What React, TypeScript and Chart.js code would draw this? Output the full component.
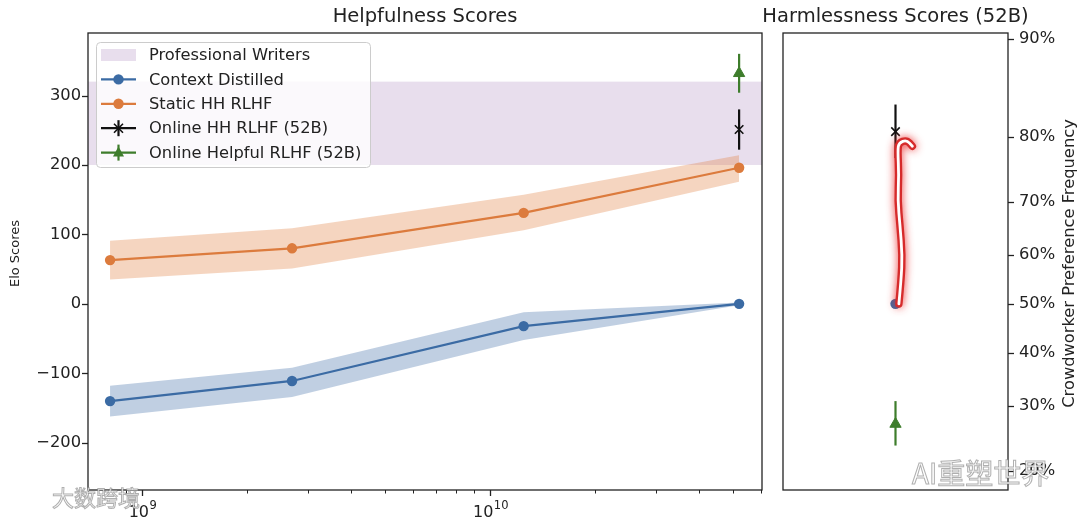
import React, { useEffect, useRef } from "react";
import { Chart, registerables } from "chart.js";

Chart.register(...registerables);
Chart.defaults.font.family = '"DejaVu Sans", sans-serif';

// ---------------- data ----------------
const MODEL_SIZES = [8.1e8, 2.7e9, 1.25e10, 5.2e10];
const CONTEXT_DISTILLED = [-140, -111, -32, 0];
const CONTEXT_DISTILLED_LO = [-162, -134, -52, -2];
const CONTEXT_DISTILLED_HI = [-118, -92, -12, 2];
const STATIC_HH = [63, 80, 131, 196];
const STATIC_HH_LO = [35, 51, 106, 176];
const STATIC_HH_HI = [91, 109, 157, 214];
const ONLINE_SIZE = 5.2e10;
const ONLINE_HH_HELPFUL = 251;
const ONLINE_HH_HELPFUL_ERR = [222, 280];
const ONLINE_HELPFUL_HELPFUL = 332;
const ONLINE_HELPFUL_HELPFUL_ERR = [304, 360];
const PRO_WRITERS = [200, 320];

const HARMLESS_X = 0;
const HARMLESS_CONTEXT = 0;
const HARMLESS_HH = 248;
const HARMLESS_HH_ERR = [210, 287];
const HARMLESS_HELPFUL = -173;
const HARMLESS_HELPFUL_ERR = [-204, -140];

const ELO_RANGE = [-268, 390];
const ELO_TICKS = [-200, -100, 0, 100, 200, 300];
const PCT_TICKS = [20, 30, 40, 50, 60, 70, 80, 90];
const X_RANGE = [7e8, 6.05e10];

const LEGEND_LABELS = [
  "Professional Writers",
  "Context Distilled",
  "Static HH RLHF",
  "Online HH RLHF (52B)",
  "Online Helpful RLHF (52B)",
];

// red hand-drawn highlight (data coords of right panel: x, elo)
const ANNOT_X = [0.03, 0.05, 0.06, 0.04, 0.02, 0.03, 0.02, 0.03, 0.1, 0.15];
const ANNOT_Y = [0, 34, 70, 113, 149, 185, 221, 232, 236, 227];

// ---------------- style ----------------
const BLUE = "#3b6ba4";
const ORANGE = "#dc7b3d";
const GREEN = "#3e7d2c";
const BLACK = "#111111";
const TEXT = "#222222";
const BLUE_BAND = "rgba(59,107,164,0.32)";
const ORANGE_BAND = "rgba(225,125,60,0.32)";
const PURPLE_BAND = "rgba(145,100,170,0.21)";
const FONT = '"DejaVu Sans", sans-serif';

const xy = (xs: number[], ys: number[]) => xs.map((x, i) => ({ x, y: ys[i] }));
const eloFromPct = (p: number) => 400 * Math.log10(p / (100 - p));
const pctFromElo = (e: number) => 100 / (1 + Math.pow(10, -e / 400));

function logTicks(min: number, max: number) {
  const out: number[] = [];
  for (let e = Math.floor(Math.log10(min)); e <= Math.ceil(Math.log10(max)); e++) {
    for (let m = 1; m <= 9; m++) {
      const v = m * Math.pow(10, e);
      if (v >= min && v <= max) out.push(v);
    }
  }
  return out;
}
const isPow10 = (v: number) => {
  const e = Math.log10(v);
  return Math.abs(e - Math.round(e)) < 1e-9;
};

function drawSpines(chart: any) {
  const { ctx, chartArea: a } = chart;
  ctx.save();
  ctx.strokeStyle = "#222";
  ctx.lineWidth = 1.3;
  ctx.strokeRect(a.left, a.top, a.right - a.left, a.bottom - a.top);
  ctx.restore();
}

function drawMarker(ctx: CanvasRenderingContext2D, kind: string, x: number, y: number, color: string) {
  ctx.save();
  ctx.fillStyle = color;
  ctx.strokeStyle = color;
  if (kind === "circle") {
    ctx.beginPath();
    ctx.arc(x, y, 5.2, 0, Math.PI * 2);
    ctx.fill();
  } else if (kind === "x") {
    ctx.lineWidth = 1.6;
    const r = 4.5;
    ctx.beginPath();
    ctx.moveTo(x - r, y - r);
    ctx.lineTo(x + r, y + r);
    ctx.moveTo(x - r, y + r);
    ctx.lineTo(x + r, y - r);
    ctx.stroke();
    ctx.lineWidth = 2.2;
    ctx.beginPath();
    ctx.moveTo(x, y - 8);
    ctx.lineTo(x, y + 8);
    ctx.stroke();
  } else if (kind === "tri") {
    ctx.lineWidth = 2.2;
    ctx.beginPath();
    ctx.moveTo(x, y - 8);
    ctx.lineTo(x, y + 8);
    ctx.stroke();
    ctx.beginPath();
    ctx.moveTo(x, y - 6);
    ctx.lineTo(x + 5.5, y + 4);
    ctx.lineTo(x - 5.5, y + 4);
    ctx.closePath();
    ctx.fill();
  }
  ctx.restore();
}

const leftDecor = {
  id: "leftDecor",
  beforeDatasetsDraw(chart: any) {
    const { ctx, chartArea: a, scales } = chart;
    const y = scales.y;
    const t = y.getPixelForValue(PRO_WRITERS[1]);
    const b = y.getPixelForValue(PRO_WRITERS[0]);
    ctx.save();
    ctx.fillStyle = PURPLE_BAND;
    ctx.fillRect(a.left, t, a.right - a.left, b - t);
    ctx.restore();
  },
  afterDatasetsDraw(chart: any) {
    const { ctx, chartArea: a, scales } = chart;
    drawSpines(chart);
    ctx.save();
    ctx.strokeStyle = "#222";
    // x ticks + power-of-ten labels
    for (const t of scales.x.ticks) {
      const px = Math.round(scales.x.getPixelForValue(t.value)) + 0.5;
      const major = isPow10(t.value);
      ctx.lineWidth = major ? 1.3 : 1;
      ctx.beginPath();
      ctx.moveTo(px, a.bottom);
      ctx.lineTo(px, a.bottom + (major ? 6 : 3.5));
      ctx.stroke();
      if (major) {
        const base = "10";
        const exp = String(Math.round(Math.log10(t.value)));
        ctx.fillStyle = TEXT;
        ctx.textBaseline = "alphabetic";
        ctx.textAlign = "left";
        ctx.font = `16px ${FONT}`;
        const wb = ctx.measureText(base).width;
        ctx.font = `11.5px ${FONT}`;
        const we = ctx.measureText(exp).width;
        const x0 = px - (wb + we) / 2;
        ctx.font = `16px ${FONT}`;
        ctx.fillText(base, x0, a.bottom + 27);
        ctx.font = `11.5px ${FONT}`;
        ctx.fillText(exp, x0 + wb + 0.5, a.bottom + 19);
      }
    }
    // y ticks
    ctx.lineWidth = 1.3;
    for (const t of scales.y.ticks) {
      const py = Math.round(scales.y.getPixelForValue(t.value)) + 0.5;
      ctx.beginPath();
      ctx.moveTo(a.left, py);
      ctx.lineTo(a.left - 6, py);
      ctx.stroke();
    }
    ctx.restore();
  },
  afterDraw(chart: any) {
    const { ctx, chartArea: a } = chart;
    ctx.save();
    // title
    ctx.fillStyle = TEXT;
    ctx.font = `19.5px ${FONT}`;
    ctx.textAlign = "center";
    ctx.textBaseline = "middle";
    ctx.fillText("Helpfulness Scores", (a.left + a.right) / 2, 17);
    // y label
    ctx.save();
    ctx.translate(16, (a.top + a.bottom) / 2 - 8);
    ctx.rotate(-Math.PI / 2);
    ctx.font = `13px ${FONT}`;
    ctx.fillText("Elo Scores", 0, 0);
    ctx.restore();

    // legend
    const lx = a.left + 8;
    const ly = a.top + 9;
    const lw = 274;
    const lh = 125;
    ctx.fillStyle = "rgba(255,255,255,0.8)";
    ctx.strokeStyle = "#cccccc";
    ctx.lineWidth = 1;
    ctx.beginPath();
    (ctx as any).roundRect(lx + 0.5, ly + 0.5, lw, lh, 4);
    ctx.fill();
    ctx.stroke();

    const rows = [
      { kind: "patch", color: PURPLE_BAND },
      { kind: "circle", color: BLUE },
      { kind: "circle", color: ORANGE },
      { kind: "x", color: BLACK },
      { kind: "tri", color: GREEN },
    ];
    const hx0 = lx + 5;
    const hx1 = lx + 40;
    rows.forEach((r, i) => {
      const cy = ly + 13 + i * 24.4;
      if (r.kind === "patch") {
        ctx.fillStyle = r.color;
        ctx.fillRect(hx0, cy - 6, hx1 - hx0, 12);
      } else {
        ctx.strokeStyle = r.color;
        ctx.lineWidth = 2.2;
        ctx.beginPath();
        ctx.moveTo(hx0, cy);
        ctx.lineTo(hx1, cy);
        ctx.stroke();
        drawMarker(ctx, r.kind, (hx0 + hx1) / 2, cy, r.color);
      }
      ctx.fillStyle = TEXT;
      ctx.font = `16.3px ${FONT}`;
      ctx.textAlign = "left";
      ctx.textBaseline = "middle";
      ctx.fillText(LEGEND_LABELS[i], lx + 53, cy + 1);
    });
    ctx.restore();
  },
};

const rightDecor = {
  id: "rightDecor",
  afterDatasetsDraw(chart: any) {
    const { ctx, chartArea: a, scales } = chart;
    drawSpines(chart);
    ctx.save();
    ctx.strokeStyle = "#222";
    ctx.lineWidth = 1.3;
    for (const t of scales.y.ticks) {
      const py = Math.round(scales.y.getPixelForValue(t.value)) + 0.5;
      ctx.beginPath();
      ctx.moveTo(a.right, py);
      ctx.lineTo(a.right + 6, py);
      ctx.stroke();
    }
    ctx.restore();
  },
  afterDraw(chart: any) {
    const { ctx, chartArea: a, scales } = chart;
    ctx.save();
    ctx.fillStyle = TEXT;
    ctx.font = `19.5px ${FONT}`;
    ctx.textAlign = "center";
    ctx.textBaseline = "middle";
    ctx.fillText("Harmlessness Scores (52B)", (a.left + a.right) / 2, 17);
    ctx.save();
    ctx.translate(a.right + 62, (a.top + a.bottom) / 2 + 2);
    ctx.rotate(-Math.PI / 2);
    ctx.font = `16.3px ${FONT}`;
    ctx.fillText("Crowdworker Preference Frequency", 0, 0);
    ctx.restore();

    // red hand-drawn highlight
    const pts = ANNOT_X.map((x, i) => [scales.x.getPixelForValue(x), scales.y.getPixelForValue(ANNOT_Y[i])]);
    const path = () => {
      ctx.beginPath();
      ctx.moveTo(pts[0][0], pts[0][1]);
      for (let i = 1; i < pts.length - 1; i++) {
        const mx = (pts[i][0] + pts[i + 1][0]) / 2;
        const my = (pts[i][1] + pts[i + 1][1]) / 2;
        ctx.quadraticCurveTo(pts[i][0], pts[i][1], mx, my);
      }
      const l = pts[pts.length - 1];
      ctx.lineTo(l[0], l[1]);
    };
    ctx.lineJoin = "round";
    ctx.lineCap = "round";
    ctx.shadowColor = "rgba(235,40,40,0.9)";
    ctx.shadowBlur = 9;
    ctx.strokeStyle = "#d62b2b";
    ctx.lineWidth = 7.5;
    path();
    ctx.stroke();
    ctx.shadowBlur = 0;
    ctx.strokeStyle = "#ffffff";
    ctx.lineWidth = 2.8;
    path();
    ctx.stroke();
    ctx.restore();
  },
};

const lineDs = (data: any[], color: string, extra: any = {}) => ({
  data,
  borderColor: color,
  backgroundColor: color,
  pointBackgroundColor: color,
  pointBorderColor: color,
  borderWidth: 2.2,
  pointRadius: 5.2,
  pointBorderWidth: 0,
  fill: false,
  tension: 0,
  order: 1,
  ...extra,
});

const bandLo = (ys: number[]) => ({
  data: xy(MODEL_SIZES, ys),
  borderColor: "transparent",
  borderWidth: 0,
  pointRadius: 0,
  fill: false,
  order: 5,
});
const bandHi = (ys: number[], color: string) => ({
  data: xy(MODEL_SIZES, ys),
  borderColor: "transparent",
  backgroundColor: color,
  borderWidth: 0,
  pointRadius: 0,
  fill: "-1",
  order: 5,
});

const errDs = (x: number, err: number[], color: string) => ({
  data: [
    { x, y: err[0] },
    { x, y: err[1] },
  ],
  borderColor: color,
  borderWidth: 2.2,
  pointRadius: 0,
  fill: false,
  order: 2,
});

const markerDs = (x: number, y: number, color: string, style: string, radius: number, bw: number) => ({
  data: [{ x, y }],
  showLine: false,
  pointStyle: style,
  pointRadius: radius,
  pointBorderWidth: bw,
  pointBackgroundColor: color,
  pointBorderColor: color,
  borderColor: color,
  backgroundColor: color,
  order: 0,
});

function leftConfig(): any {
  return {
    type: "line",
    data: {
      datasets: [
        bandLo(CONTEXT_DISTILLED_LO),
        bandHi(CONTEXT_DISTILLED_HI, BLUE_BAND),
        bandLo(STATIC_HH_LO),
        bandHi(STATIC_HH_HI, ORANGE_BAND),
        lineDs(xy(MODEL_SIZES, CONTEXT_DISTILLED), BLUE),
        lineDs(xy(MODEL_SIZES, STATIC_HH), ORANGE),
        errDs(ONLINE_SIZE, ONLINE_HH_HELPFUL_ERR, BLACK),
        markerDs(ONLINE_SIZE, ONLINE_HH_HELPFUL, BLACK, "crossRot", 6, 1.6),
        errDs(ONLINE_SIZE, ONLINE_HELPFUL_HELPFUL_ERR, GREEN),
        markerDs(ONLINE_SIZE, ONLINE_HELPFUL_HELPFUL, GREEN, "triangle", 6.5, 1),
      ],
    },
    options: {
      animation: false,
      responsive: false,
      events: [],
      layout: { padding: { top: 33, right: 13, bottom: 0, left: 0 } },
      plugins: { legend: { display: false }, title: { display: false }, tooltip: { enabled: false } },
      scales: {
        x: {
          type: "logarithmic",
          min: X_RANGE[0],
          max: X_RANGE[1],
          grid: { display: false, drawTicks: false },
          border: { display: false },
          ticks: {
            autoSkip: false,
            maxRotation: 0,
            padding: 7,
            color: TEXT,
            font: { size: 16 },
            callback: () => "",
          },
          afterBuildTicks: (s: any) => {
            s.ticks = logTicks(X_RANGE[0], X_RANGE[1]).map((v) => ({ value: v }));
          },
          afterFit: (s: any) => {
            s.height = 31;
          },
        },
        y: {
          type: "linear",
          min: ELO_RANGE[0],
          max: ELO_RANGE[1],
          grid: { display: false, drawTicks: false },
          border: { display: false },
          ticks: {
            padding: 7,
            color: TEXT,
            font: { size: 16.3 },
            callback: (v: number) => (v < 0 ? "−" + Math.abs(v) : String(v)),
          },
          afterBuildTicks: (s: any) => {
            s.ticks = ELO_TICKS.map((v) => ({ value: v }));
          },
          afterFit: (s: any) => {
            s.width = 88;
          },
        },
      },
    },
    plugins: [leftDecor],
  };
}

function rightConfig(): any {
  return {
    type: "line",
    data: {
      datasets: [
        errDs(HARMLESS_X, HARMLESS_HH_ERR, BLACK),
        markerDs(HARMLESS_X, HARMLESS_HH, BLACK, "crossRot", 6, 1.6),
        errDs(HARMLESS_X, HARMLESS_HELPFUL_ERR, GREEN),
        markerDs(HARMLESS_X, HARMLESS_HELPFUL, GREEN, "triangle", 6.5, 1),
        markerDs(HARMLESS_X, HARMLESS_CONTEXT, BLUE, "circle", 5.2, 0),
      ],
    },
    options: {
      animation: false,
      responsive: false,
      events: [],
      layout: { padding: { top: 33, right: 0, bottom: 31, left: 43 } },
      plugins: { legend: { display: false }, title: { display: false }, tooltip: { enabled: false } },
      scales: {
        x: { type: "linear", min: -1, max: 1, display: false },
        y: {
          type: "linear",
          position: "right",
          min: ELO_RANGE[0],
          max: ELO_RANGE[1],
          grid: { display: false, drawTicks: false },
          border: { display: false },
          ticks: {
            padding: 11,
            color: TEXT,
            font: { size: 16.3 },
            callback: (v: number) => Math.round(pctFromElo(v)) + "%",
          },
          afterBuildTicks: (s: any) => {
            s.ticks = PCT_TICKS.map((p) => ({ value: eloFromPct(p) }));
          },
          afterFit: (s: any) => {
            s.width = 72;
          },
        },
      },
    },
    plugins: [rightDecor],
  };
}

export default function App() {
  const leftRef = useRef<HTMLCanvasElement>(null);
  const rightRef = useRef<HTMLCanvasElement>(null);
  useEffect(() => {
    const c1 = new Chart(leftRef.current as HTMLCanvasElement, leftConfig());
    const c2 = new Chart(rightRef.current as HTMLCanvasElement, rightConfig());
    return () => {
      c1.destroy();
      c2.destroy();
    };
  }, []);
  const wm: React.CSSProperties = {
    position: "absolute",
    fontFamily: '"Noto Sans CJK SC", sans-serif',
    color: "rgba(255,255,255,0.92)",
    WebkitTextStroke: "1px rgba(110,110,110,0.55)",
    whiteSpace: "nowrap",
    pointerEvents: "none",
  };
  return (
    <div style={{ position: "absolute", left: 0, top: 0, width: 1080, height: 521, background: "#fff", overflow: "hidden" }}>
      <canvas ref={leftRef} width={775} height={521} style={{ position: "absolute", left: 0, top: 0, width: 775, height: 521 }} />
      <canvas ref={rightRef} width={340} height={521} style={{ position: "absolute", left: 740, top: 0, width: 340, height: 521 }} />
      <div style={{ ...wm, left: 52, top: 480, fontSize: 22 }}>大数跨境</div>
      <div style={{ ...wm, left: 912, top: 452, fontSize: 28 }}>AI重塑世界</div>
    </div>
  );
}
